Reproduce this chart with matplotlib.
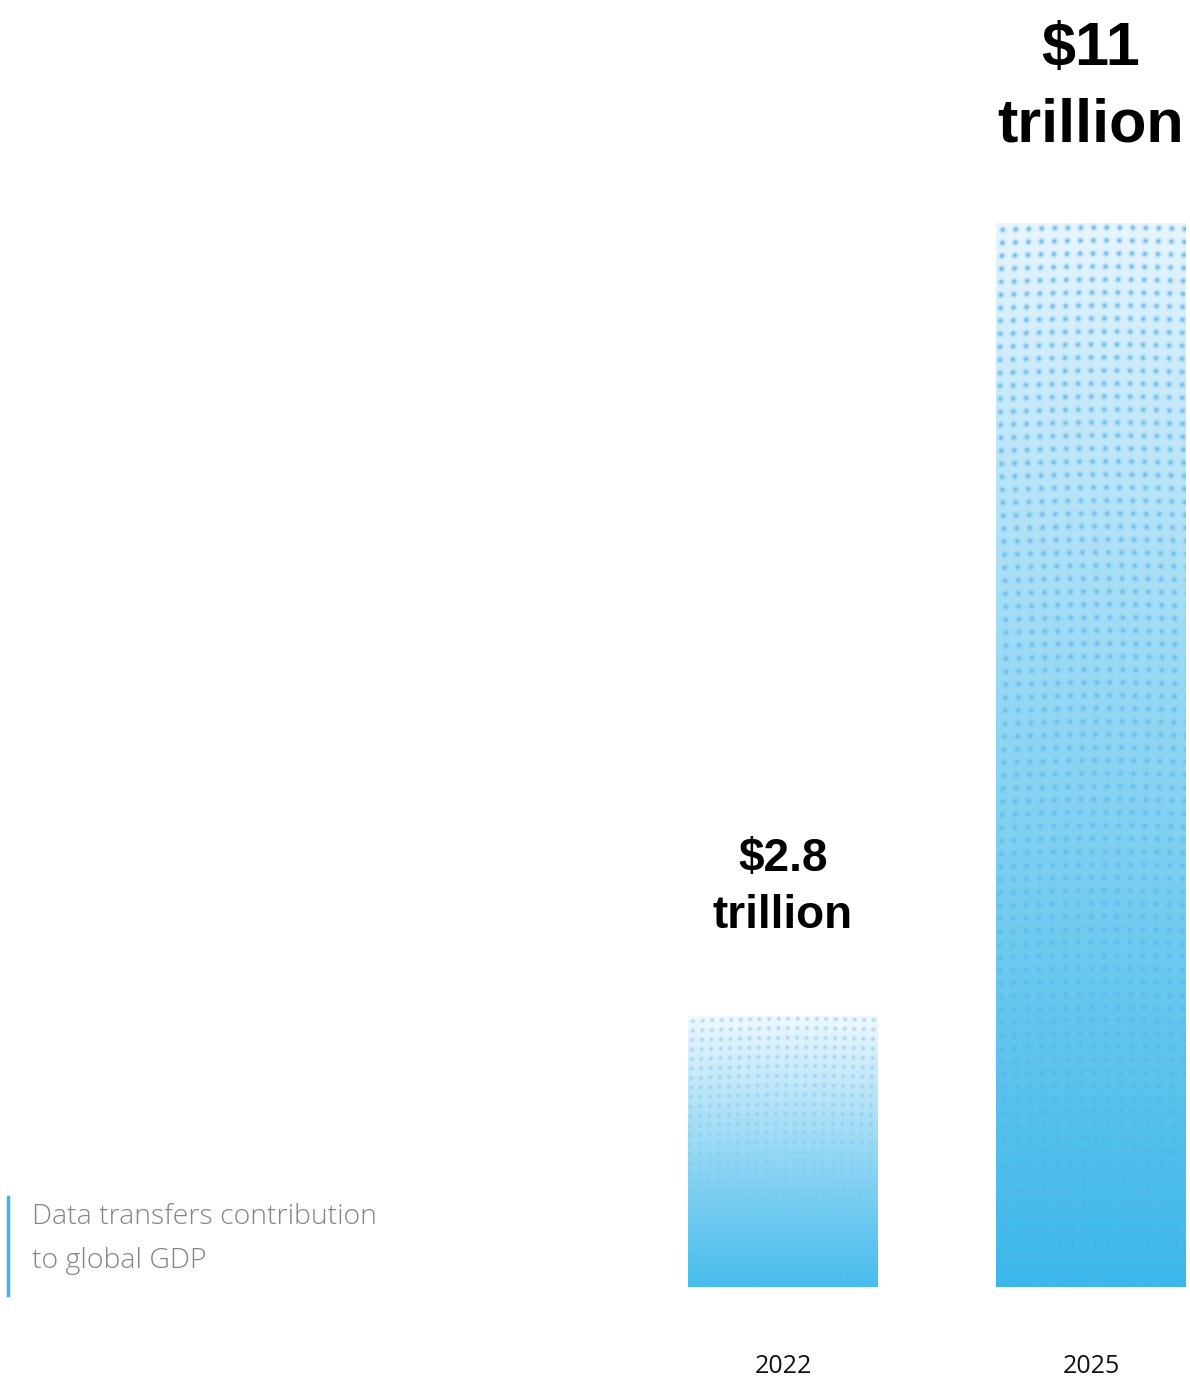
import numpy as np
import matplotlib
matplotlib.use("Agg")
import matplotlib.pyplot as plt
from matplotlib.colors import to_rgb

years = ["2022", "2025"]
values = [2.8, 11.0]
value_labels = ["$2.8\ntrillion", "$11\ntrillion"]
caption = "Data transfers contribution\nto global GDP"

W, H, DPI = 1190, 1378, 100
fig = plt.figure(figsize=(W / DPI, H / DPI), dpi=DPI)
fig.patch.set_facecolor("white")

# axes geometry in pixels
c0, step = 783, 308
ax_left_px = 629
ax_bottom_px = 1287
ax = fig.add_axes([ax_left_px / W, 1 - ax_bottom_px / H, (W - ax_left_px) / W, ax_bottom_px / H])
ax.set_xlim(-0.5, (W - c0) / step)
ax.set_ylim(0, 11.0 * 1287 / 1064)
ax.set_facecolor("none")
for s in ax.spines.values():
    s.set_visible(False)
ax.set_yticks([])
ax.set_xticks(range(len(years)), years, fontsize=18, family="Open Sans", color="#111111")
ax.tick_params(axis="x", length=0, pad=48)

bar_w = 190 / step
bars = ax.bar(range(len(years)), values, width=bar_w, color="none", edgecolor="none")


def texture(hpx, wpx, spacing, top, bottom, dotc, dot_top, dot_bot, rad):
    y = np.linspace(0, 1, hpx)[:, None] * np.ones((1, wpx))
    xx, yy = np.meshgrid(np.arange(wpx), np.arange(hpx))
    t = y ** 0.9
    top = np.array(to_rgb(top)); bottom = np.array(to_rgb(bottom)); dotc = np.array(to_rgb(dotc))
    base = top[None, None, :] * (1 - t[..., None]) + bottom[None, None, :] * t[..., None]
    xw = xx + 3.0 * np.sin(yy / 90.0)
    yw = yy + 2.5 * np.sin(xx / 70.0)
    dx = (xw % spacing) - spacing / 2
    dy = (yw % spacing) - spacing / 2
    r = np.sqrt(dx ** 2 + dy ** 2)
    dot = np.exp(-(r / (spacing * rad)) ** 2)
    strength = dot_top * (1 - y) + dot_bot * y
    a = (dot * strength)[..., None]
    img = base * (1 - a) + dotc[None, None, :] * a
    return np.clip(img, 0, 1)


specs = [
    dict(spacing=9.5, top="#f1f9fe", bottom="#46bcec", dotc="#74bcea", dot_top=0.6, dot_bot=0.2, rad=0.2),
    dict(spacing=13.0, top="#e9f6fe", bottom="#3cb8ea", dotc="#4eaae3", dot_top=0.8, dot_bot=0.3, rad=0.2),
]
for rect, sp in zip(bars, specs):
    x0 = rect.get_x(); w = rect.get_width(); h = rect.get_height()
    p0 = ax.transData.transform((x0, 0)); p1 = ax.transData.transform((x0 + w, h))
    wpx = int(round(p1[0] - p0[0])); hpx = int(round(p1[1] - p0[1]))
    img = texture(hpx, wpx, **sp)
    im = ax.imshow(img, extent=(x0, x0 + w, 0, h), origin="upper", aspect="auto",
                   interpolation="bilinear", zorder=1)
    im.set_clip_path(rect)

label_sizes = [33, 44]
label_offsets = [56, 49]
label_spacing = [1.38, 1.45]
for i, (v, lab) in enumerate(zip(values, value_labels)):
    ax.annotate(lab, xy=(i, v), xytext=(0, label_offsets[i]), textcoords="offset points",
                ha="center", va="bottom", fontsize=label_sizes[i], fontweight="bold",
                family="Liberation Sans", color="#000000", linespacing=label_spacing[i],
                annotation_clip=False)

# caption with accent line
fig.add_artist(plt.Line2D([8 / W, 8 / W], [1 - 1197 / H, 1 - 1295 / H], color="#3db5e6", lw=2.5))
fig.text(32 / W, 1 - 1239 / H, caption, ha="left", va="center", fontsize=20.5,
         family="Open Sans", fontweight="light", color="#858585", linespacing=1.75)

fig.savefig("out.png", dpi=DPI)
